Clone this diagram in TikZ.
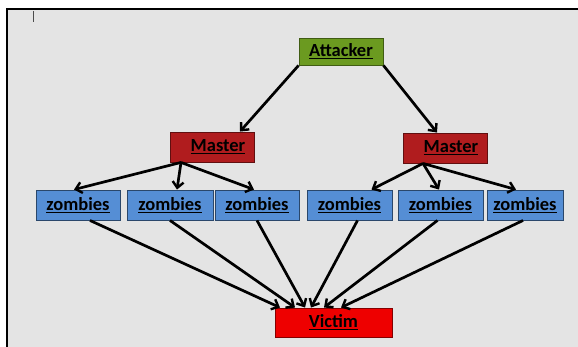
\documentclass[tikz,border=0pt]{standalone}
\usepackage{fontspec}
\setmainfont{Carlito}
\usetikzlibrary{arrows.meta}

\definecolor{paper}{HTML}{E4E4E4}
\definecolor{atkgreen}{HTML}{6B9A20}
\definecolor{mastred}{HTML}{B01C1E}
\definecolor{zomblue}{HTML}{558ED5}
\definecolor{vicred}{HTML}{EE0000}

\begin{document}
\begin{tikzpicture}[x=1pt,y=-1pt]
    \tikzstyle{box}=[draw, line width=0.9pt, minimum height=28pt, inner sep=0pt,
        font=\fontsize{18.5}{20}\selectfont\bfseries]
    \tikzstyle{attacker}=[box, fill=atkgreen, draw=atkgreen!60!black, minimum width=84pt, minimum height=27pt]
    \tikzstyle{master}=[box, fill=mastred, draw=mastred!55!black, minimum width=84pt, minimum height=30pt]
    \tikzstyle{zombie}=[box, fill=zomblue, draw=zomblue!50!black, minimum height=30pt]
    \tikzstyle{victim}=[box, fill=vicred, draw=vicred!55!black, minimum width=117pt, minimum height=29pt]
    \tikzstyle{link}=[line width=2.7pt, -{Straight Barb[length=6pt,width=11pt,line width=2.4pt]}]
    \useasboundingbox (0,0) rectangle (578,347);
    % frame
    \fill [paper] (7,9) rectangle (578,347);
    \draw [line width=2.6pt] (7,347) -- (7,9) -- (578,9);
    \draw [black!70, line width=1pt] (33,11) -- (33,22);
    % nodes
    \node [attacker] (atk) at (341,51.5) {\underline{Attacker}};
    \node [master] (m1) at (212,147) {\hspace*{12pt}\underline{Master}};
    \node [master] (m2) at (445,148) {\hspace*{12pt}\underline{Master}};
    \node [zombie, minimum width=84pt] (z1) at (78,205) {\underline{zombies}};
    \node [zombie, minimum width=86pt] (z2) at (170,205) {\underline{zombies}};
    \node [zombie, minimum width=84pt] (z3) at (257,205) {\underline{zombies}};
    \node [zombie, minimum width=85pt] (z4) at (349.5,205) {\underline{zombies}};
    \node [zombie, minimum width=85pt] (z5) at (440.5,205) {\underline{zombies}};
    \node [zombie, minimum width=76pt] (z6) at (525,205) {\underline{zombies}};
    \node [victim] (vic) at (333.5,322.5) {\underline{Victim}};
    % attacker to masters
    \draw [link] (atk.south west) -- ([xshift=28pt]m1.north);
    \draw [link] (atk.south east) -- ([xshift=-8pt]m2.north);
    % masters to zombies
    \draw [link] ([xshift=-31pt]m1.south) -- ([xshift=-4pt]z1.north);
    \draw [link] ([xshift=-31pt]m1.south) -- ([xshift=7pt]z2.north);
    \draw [link] ([xshift=-31pt]m1.south) -- ([xshift=-3pt]z3.north);
    \draw [link] ([xshift=-22pt]m2.south) -- ([xshift=22pt]z4.north);
    \draw [link] ([xshift=-22pt]m2.south) -- ([xshift=-1.5pt]z5.north);
    \draw [link] ([xshift=-22pt]m2.south) -- ([xshift=-9pt]z6.north);
    % zombies to victim
    \draw [link] ([xshift=12pt]z1.south) -- ([xshift=-53.5pt]vic.north);
    \draw [link] (z2.south) -- ([xshift=-38.5pt]vic.north);
    \draw [link] (z3.south) -- ([xshift=-28.5pt]vic.north);
    \draw [link] ([xshift=8pt]z4.south) -- ([xshift=-22.5pt]vic.north);
    \draw [link] ([xshift=-3pt]z5.south) -- ([xshift=-9.5pt]vic.north);
    \draw [link] ([xshift=-2pt]z6.south) -- ([xshift=7.5pt]vic.north);
\end{tikzpicture}
\end{document}
